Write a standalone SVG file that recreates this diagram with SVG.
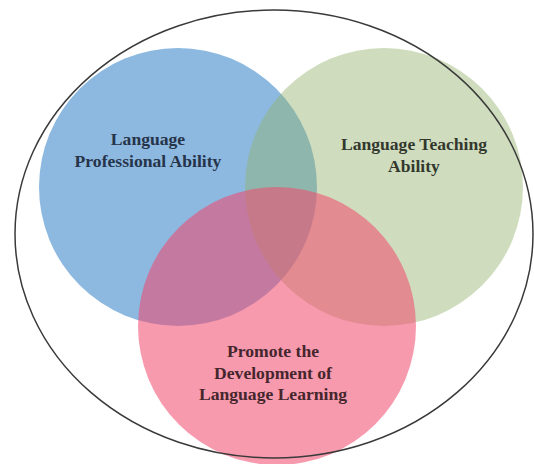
<svg xmlns="http://www.w3.org/2000/svg" width="534" height="464" viewBox="0 0 534 464">
<style>
.lbl{font-family:"Liberation Serif","Times New Roman",serif;font-weight:bold;font-size:17.6px;text-anchor:middle}
.outer{fill:none;stroke:#3a3a3a;stroke-width:1.5}
</style>
<rect width="534" height="464" fill="#ffffff"/>
<g id="node-language-professional-ability">
<circle cx="178" cy="187" r="139" fill="#8db9e0"/>
<text class="lbl" fill="#26344a"><tspan x="148" y="145">Language</tspan><tspan x="148" y="167">Professional Ability</tspan></text>
</g>
<g id="node-language-teaching-ability">
<circle cx="384" cy="187" r="139" fill="#92b26b" fill-opacity="0.44"/>
<text class="lbl" fill="#33382e"><tspan x="414" y="150">Language Teaching</tspan><tspan x="414" y="172">Ability</tspan></text>
</g>
<g id="node-promote-language-learning">
<circle cx="277" cy="326" r="139" fill="#f2476b" fill-opacity="0.55"/>
<text class="lbl" fill="#45262d"><tspan x="273" y="357">Promote the</tspan><tspan x="273" y="379">Development of</tspan><tspan x="273" y="400">Language Learning</tspan></text>
</g>
<g id="node-outer">
<ellipse class="outer" cx="274" cy="234" rx="259" ry="224"/>
</g>
<g id="connectors"></g>
</svg>
